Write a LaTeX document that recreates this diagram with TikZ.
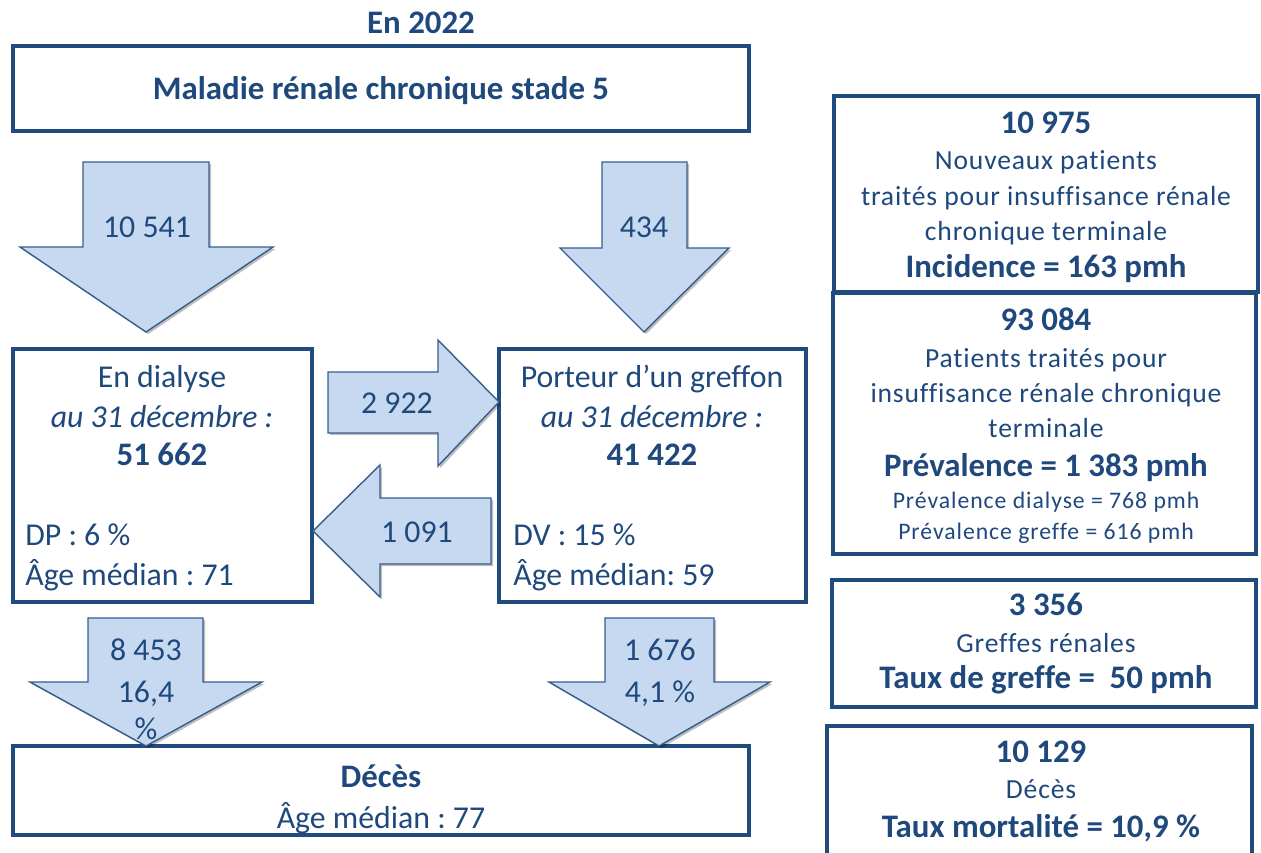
\documentclass[tikz,border=0pt]{standalone}
\usepackage{fontspec}
\setmainfont{Carlito}[Ligatures={NoCommon,NoContextual}]
\newfontfamily\spcA{Carlito}[LetterSpace=3,Ligatures={NoCommon,NoContextual}]
\newfontfamily\spcB{Carlito}[LetterSpace=4,Ligatures={NoCommon,NoContextual}]
\usetikzlibrary{shadows}
\definecolor{navy}{HTML}{1F497D}
\definecolor{bnavy}{HTML}{1F4B7E}
\definecolor{afill}{HTML}{C6D9F1}
\definecolor{aline}{HTML}{385D8A}
\newcommand\fbig{\fontsize{18.1pt}{21pt}\selectfont}
\newcommand\fbld{\fontsize{18.7pt}{21pt}\selectfont\bfseries}
\newcommand\fmid{\spcA\fontsize{15.7pt}{19pt}\selectfont}
\newcommand\fsml{\spcB\fontsize{13.5pt}{16pt}\selectfont}
\newcommand\pbox[5]{\node[box, anchor=north west, minimum width={(#4-#2)*0.02cm}, minimum height={(#5-#3)*0.02cm}] (#1) at (#2,#3) {};}
\frenchspacing
\begin{document}
\begin{tikzpicture}[x=0.02cm,y=-0.02cm,
  shd/.style={drop shadow={shadow xshift=1.2pt, shadow yshift=-1.2pt, opacity=0.25, fill=black}},
  box/.style={draw=bnavy, line width=1.8pt, fill=white, inner sep=0pt, outer sep=0pt, shd},
  blk/.style={draw=aline, line width=0.8pt, fill=afill, line join=miter, shd},
  tx/.style={text=navy, inner sep=0pt, anchor=base, font=\fbig},
  tb/.style={tx, font=\fbld},
  ti/.style={tx, font=\fbig\itshape},
  tl/.style={tx, anchor=base west},
  tm/.style={tx, font=\fmid},
  ts/.style={tx, font=\fsml}]
\useasboundingbox (0,0) rectangle (1261,852);
% boxes
\pbox{top}{13}{46}{749}{131}
\pbox{dial}{13}{349}{312}{602}
\pbox{graf}{499}{349}{806}{602}
\pbox{dec}{13}{746}{749}{835}
\pbox{inc}{834}{96}{1258}{292}
\pbox{prev}{833}{293}{1256}{554}
\pbox{gref}{832}{580}{1256}{707}
\pbox{mort}{827}{726}{1252}{880}
% block arrows
\draw[blk] (83,162) -- (209,162) -- (209,247) -- (273,247) -- (146,332) -- (20,247) -- (83,247) -- cycle;
\draw[blk] (602,162) -- (687,162) -- (687,248) -- (729,248) -- (644,332) -- (560,248) -- (602,248) -- cycle;
\draw[blk] (328,372) -- (438,372) -- (438,340) -- (499,402) -- (438,466) -- (438,433) -- (328,433) -- cycle;
\draw[blk] (491,498) -- (380,498) -- (380,465) -- (313,531) -- (380,597) -- (380,564) -- (491,564) -- cycle;
\draw[blk] (88,618) -- (203,618) -- (203,682) -- (262,682) -- (146,746) -- (30,682) -- (88,682) -- cycle;
\draw[blk] (605,618) -- (714,618) -- (714,682) -- (770,682) -- (659,746) -- (549,682) -- (605,682) -- cycle;
% texts
\node[tb] (year) at (421,33) {En 2022};
\node[tb] (mrc) at (381,99) {Maladie rénale chronique stade 5};
\node[tx] (n1) at (147,237) {10 541};
\node[tx] (n2) at (644,237) {434};
\node[tx] (d1) at (162,387) {En dialyse};
\node[ti] (d2) at (162,427) {au 31 décembre :};
\node[tb] (d3) at (162,465) {51 662};
\node[tl] (d4) at (25,545) {DP : 6 \%};
\node[tl] (d5) at (25,585) {Âge médian : 71};
\node[tx] (g1) at (652,387) {Porteur d’un greffon};
\node[ti] (g2) at (652,427) {au 31 décembre :};
\node[tb] (g3) at (652,465) {41 422};
\node[tl] (g4) at (513,545) {DV : 15 \%};
\node[tl] (g5) at (513,585) {Âge médian: 59};
\node[tx] (n3) at (397,413) {2 922};
\node[tx] (n4) at (417,542) {1 091};
\node[tx] (n5) at (146,660) {8 453};
\node[tx] (n6) at (146,702) {16,4};
\node[tx] (n7) at (146,739) {\%};
\node[tx] (n8) at (660,660) {1 676};
\node[tx] (n9) at (660,702) {4,1 \%};
\node[tb] (x1) at (381,787) {Décès};
\node[tx] (x2) at (381,828) {Âge médian : 77};
% right panel
\node[tb] (i1) at (1046,133) {10 975};
\node[tm] (i2) at (1046,169) {Nouveaux patients};
\node[tm] (i3) at (1046,205) {traités pour insuffisance rénale};
\node[tm] (i4) at (1046,240) {chronique terminale};
\node[tb] (i5) at (1046,277) {Incidence = 163 pmh};
\node[tb] (p1) at (1046,330) {93 084};
\node[tm] (p2) at (1046,367) {Patients traités pour};
\node[tm] (p3) at (1046,402) {insuffisance rénale chronique};
\node[tm] (p4) at (1046,437) {terminale};
\node[tb] (p5) at (1046,476) {Prévalence = 1 383 pmh};
\node[ts] (p6) at (1046,508) {Prévalence dialyse = 768 pmh};
\node[ts] (p7) at (1046,539) {Prévalence greffe = 616 pmh};
\node[tb] (r1) at (1046,615) {3 356};
\node[tm] (r2) at (1046,652) {Greffes rénales};
\node[tb] (r3) at (1046,688) {Taux de greffe = \ 50 pmh};
\node[tb] (m1) at (1041,762) {10 129};
\node[tm] (m2) at (1041,798) {Décès};
\node[tb] (m3) at (1041,837) {Taux mortalité = 10,9 \%};
\end{tikzpicture}
\end{document}
